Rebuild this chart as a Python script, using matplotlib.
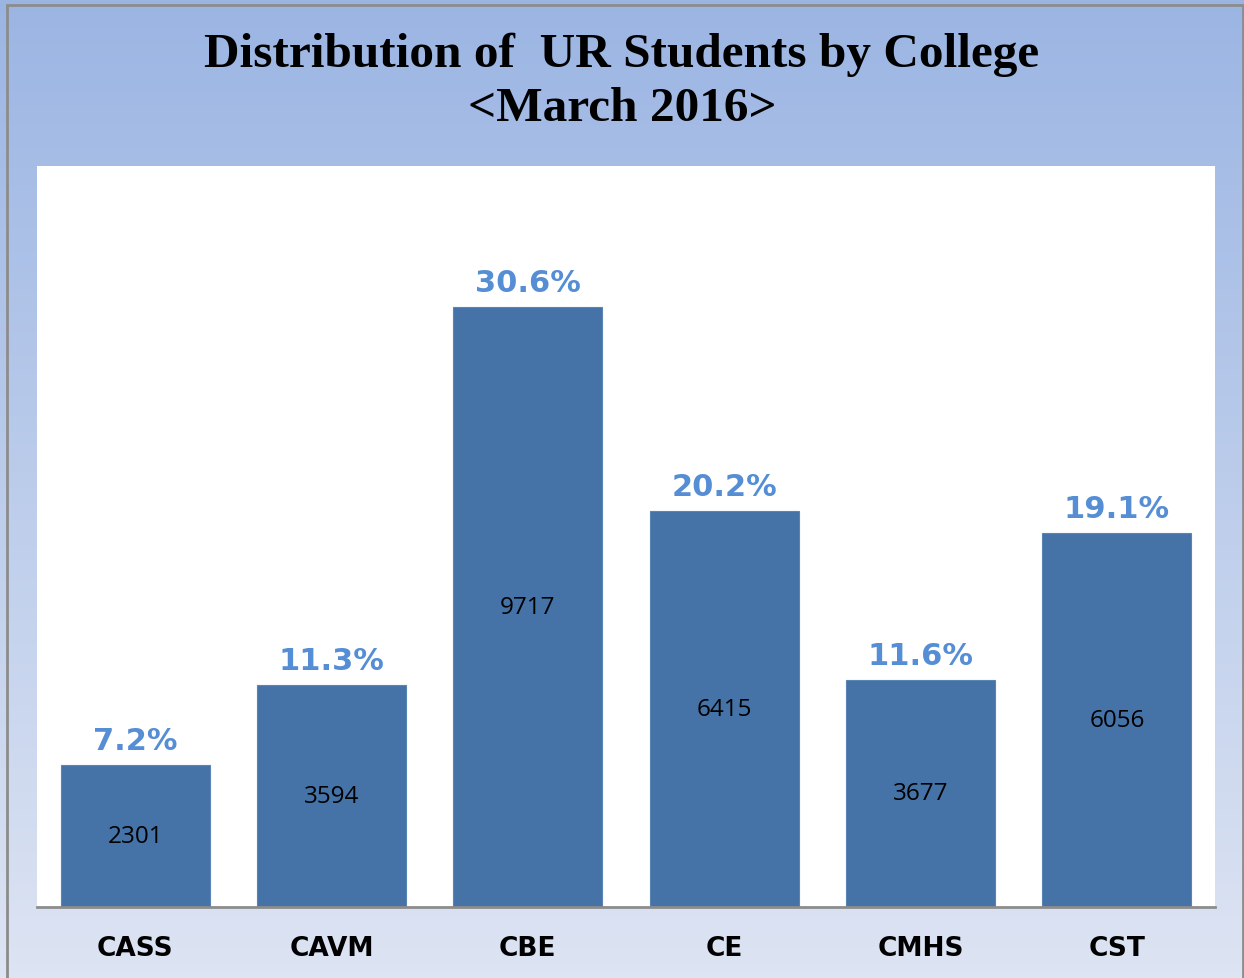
import matplotlib.pyplot as plt
import numpy as np
from matplotlib.colors import LinearSegmentedColormap
from matplotlib.patches import Rectangle

colleges = ["CASS", "CAVM", "CBE", "CE", "CMHS", "CST"]
students = [2301, 3594, 9717, 6415, 3677, 6056]
percents = ["7.2%", "11.3%", "30.6%", "20.2%", "11.6%", "19.1%"]

W, H = 1244, 979
fig = plt.figure(figsize=(W / 100, H / 100), dpi=100)

# gradient background
bg = fig.add_axes([0, 0, 1, 1], zorder=0)
grad = LinearSegmentedColormap.from_list("bg", ["#dde4f3", "#9bb5e3"])
bg.imshow(np.linspace(0, 1, 256).reshape(-1, 1), cmap=grad, aspect="auto",
          extent=[0, 1, 0, 1], origin="lower")
bg.set_xlim(0, 1)
bg.set_ylim(0, 1)
bg.axis("off")

# outer border
fig.patches.append(Rectangle((7 / W, -0.01), (1243 - 7) / W, (H - 6) / H + 0.01,
                             transform=fig.transFigure, fill=False,
                             edgecolor="#8c8c8c", linewidth=2, zorder=1))

ax = fig.add_axes([37 / W, (H - 908) / H, (1215 - 37) / W, (908 - 167) / H], zorder=2)
ax.set_facecolor("white")
x = np.arange(len(colleges))
bars = ax.bar(x, students, width=0.76, color="#4573a7", edgecolor="#5a84b4", linewidth=0.8)
ax.set_xlim(-0.5, len(colleges) - 0.5)
ax.set_ylim(0, 12000)

for xi, v, p in zip(x, students, percents):
    ax.text(xi, v / 2, str(v), ha="center", va="center", fontsize=17.5,
            family="Open Sans", color="black")
    ax.text(xi, v + 400, p, ha="center", va="center", fontsize=22,
            family="DejaVu Sans", fontweight="bold", color="#558ed5")

ax.set_xticks(x)
ax.set_xticklabels(colleges, fontsize=19, family="DejaVu Sans", fontweight="bold")
ax.tick_params(axis="x", length=0, pad=20)
ax.set_yticks([])
for s in ["top", "left", "right"]:
    ax.spines[s].set_visible(False)
ax.spines["bottom"].set_color("#8c8c8c")
ax.spines["bottom"].set_linewidth(2)

fig.text(0.5, 1 - 55 / H, "Distribution of  UR Students by College", ha="center", va="center",
         fontsize=35.5, family="Liberation Serif", fontweight="bold")
fig.text(0.5, 1 - 109 / H, "<March 2016>", ha="center", va="center",
         fontsize=35.5, family="Liberation Serif", fontweight="bold")

fig.savefig("out.png", dpi=100)
